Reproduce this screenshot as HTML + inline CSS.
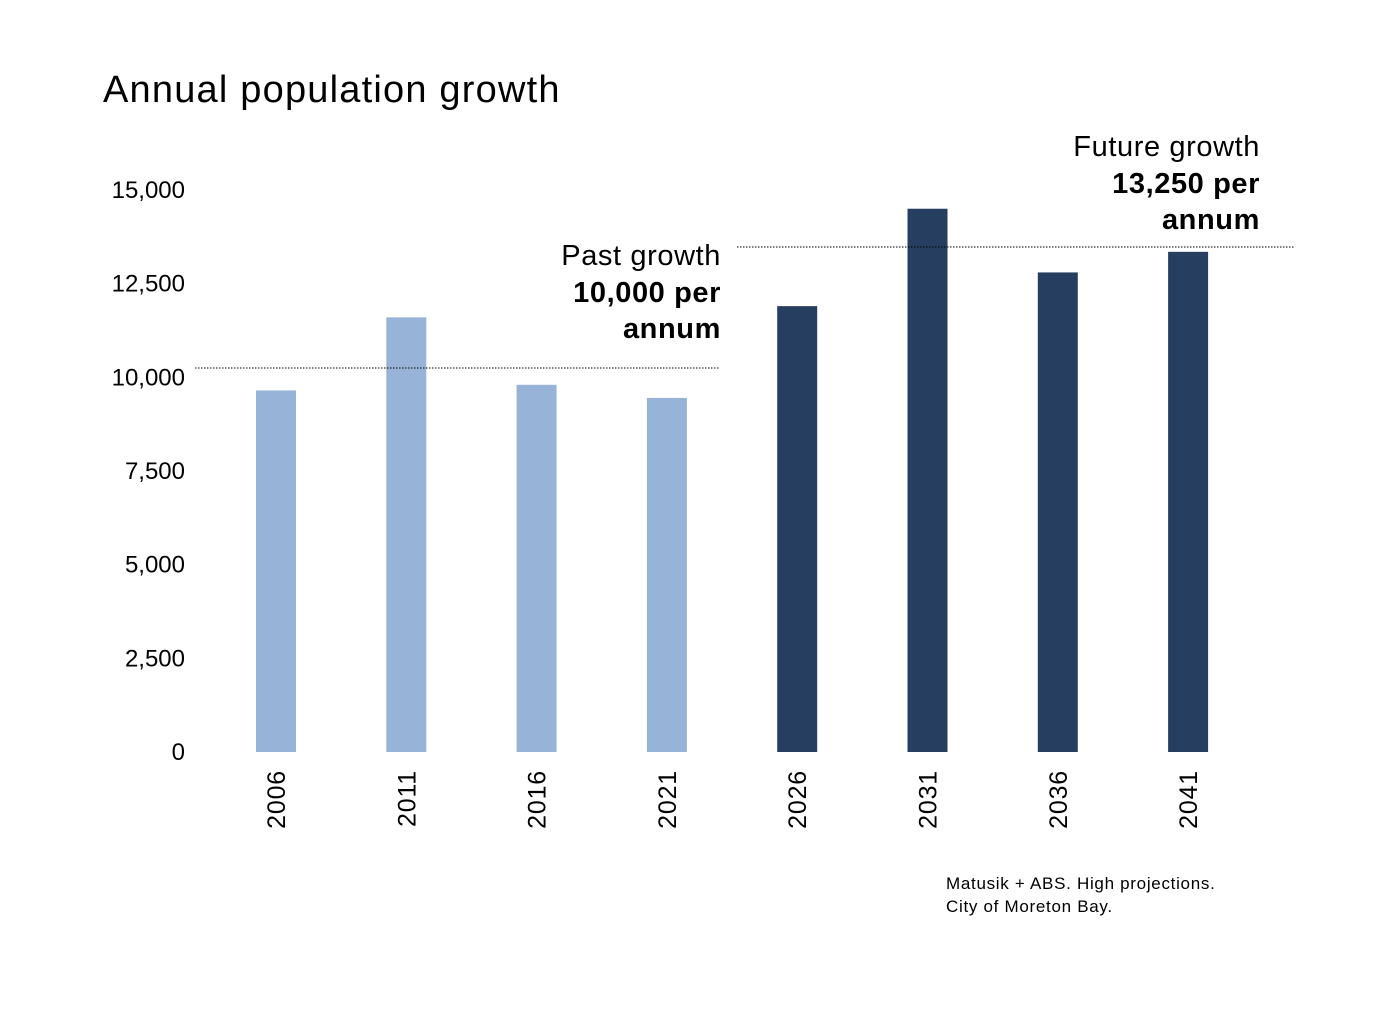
<!DOCTYPE html>
<html><head><meta charset="utf-8"><style>
html,body{margin:0;padding:0;background:#fff;}
svg{display:block;font-family:"Liberation Sans",sans-serif;}
</style></head><body>
<svg id="chart" width="1380" height="1035" viewBox="0 0 1380 1035">
<text x="103" y="102" font-size="38" letter-spacing="1.2" fill="#000">Annual population growth</text>
<g id="yaxis"></g>
<g id="bars"></g>
<g id="xaxis"></g>
<line x1="195" y1="368" x2="719" y2="368" stroke="#000" stroke-width="1" stroke-dasharray="1.5,1.5"/>
<line x1="737" y1="247" x2="1294" y2="247" stroke="#000" stroke-width="1" stroke-dasharray="1.5,1.5"/>
<g text-anchor="end" font-size="29" letter-spacing="0.6">
<text x="721" y="265">Past growth</text>
<text x="721" y="302" font-weight="bold">10,000 per</text>
<text x="721" y="338" font-weight="bold">annum</text>
</g>
<g text-anchor="end" font-size="29" letter-spacing="0.6">
<text x="1260" y="156">Future growth</text>
<text x="1260" y="193" font-weight="bold">13,250 per</text>
<text x="1260" y="229" font-weight="bold">annum</text>
</g>
<g font-size="17" letter-spacing="0.7">
<text x="946" y="889">Matusik + ABS.  High projections.</text>
<text x="946" y="912">City of Moreton Bay.</text>
</g>
</svg>
<script>
const categories=["2006","2011","2016","2021","2026","2031","2036","2041"];
const values=[9650,11600,9800,9450,11900,14500,12800,13350];
const isProjection=[false,false,false,false,true,true,true,true];
const yTicks=[0,2500,5000,7500,10000,12500,15000];
const yTickLabels=["0","2,500","5,000","7,500","10,000","12,500","15,000"];
const NS="http://www.w3.org/2000/svg";
const y0=752,yScale=(752-190)/15000;
function y(v){return y0-v*yScale;}
function x(i){return 276+i*130.3;}
const ya=document.getElementById('yaxis');
yTicks.forEach((t,i)=>{
 const tx=document.createElementNS(NS,'text');
 tx.setAttribute('x',185);tx.setAttribute('y',y(t)+8);
 tx.setAttribute('text-anchor','end');tx.setAttribute('font-size','24');
 tx.textContent=yTickLabels[i];
 
 
 ya.appendChild(tx);
});
const bg=document.getElementById('bars'),xa=document.getElementById('xaxis');
categories.forEach((c,i)=>{
 const r=document.createElementNS(NS,'rect');
 r.setAttribute('x',x(i)-20);r.setAttribute('width',40);
 r.setAttribute('y',y(values[i]));r.setAttribute('height',y0-y(values[i]));
 r.setAttribute('fill',isProjection[i]?'#263f60':'#97b3d7');
 
 
 bg.appendChild(r);
 const t=document.createElementNS(NS,'text');
 t.setAttribute('transform','translate('+(x(i)+9)+',770) rotate(-90)');
 t.setAttribute('text-anchor','end');t.setAttribute('font-size','25');
 t.setAttribute('letter-spacing','0.8');
 t.textContent=c;
 
 
 xa.appendChild(t);
});
</script>
</body></html>
